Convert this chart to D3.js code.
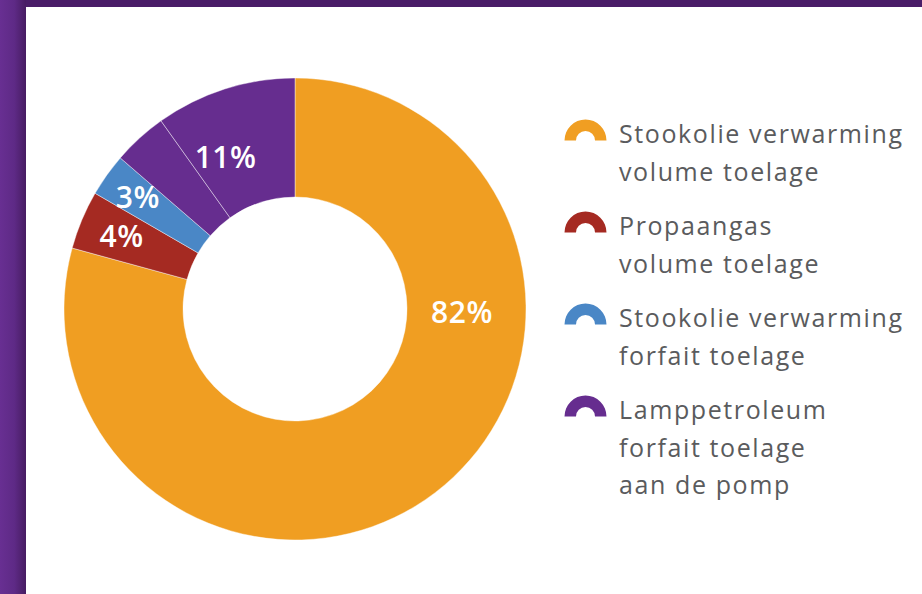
<!DOCTYPE html>
<html>
<head>
<meta charset="utf-8">
<script src="https://cdn.jsdelivr.net/npm/d3@7"></script>
<style>
  html, body { margin: 0; padding: 0; background: #fff; }
  svg { display: block; }
</style>
</head>
<body>
<svg id="donut" width="922" height="594"></svg>
<script>
// slices as drawn (share of the ring, %), the last two are both purple
var sliceKeys = ["stookVolume", "propaan", "stookForfait", "lampA", "lampB"];
var sliceValues = [79.25, 4.1, 3.0, 3.8, 9.85];
var sliceColors = ["#f09e22", "#a52a22", "#4a87c6", "#662d8f", "#662d8f"];

// printed labels
var labelKeys = ["stookVolume", "propaan", "stookForfait", "lamp"];
var labelTexts = ["82%", "4%", "3%", "11%"];

// legend
var legendLines = [
    ["Stookolie verwarming", "volume toelage"],
    ["Propaangas", "volume toelage"],
    ["Stookolie verwarming", "forfait toelage"],
    ["Lamppetroleum", "forfait toelage", "aan de pomp"]
];
var legendColors = ["#f09e22", "#a52a22", "#4a87c6", "#662d8f"];

var svg = d3.select("#donut"),
    cx = 295, cy = 309,
    outerR = 231, innerR = 112;

// purple frame
var defs = svg.append("defs");
var grad = defs.append("linearGradient").attr("id", "sideGrad")
    .attr("x1", "0%").attr("x2", "100%").attr("y1", "0%").attr("y2", "0%");
grad.append("stop").attr("offset", "0%").attr("stop-color", "#682f92");
grad.append("stop").attr("offset", "55%").attr("stop-color", "#5e2a86");
grad.append("stop").attr("offset", "100%").attr("stop-color", "#471c62");

svg.append("rect").attr("x", 0).attr("y", 0).attr("width", 922).attr("height", 7)
    .attr("fill", "#4a1d68");
svg.append("rect").attr("x", 0).attr("y", 0).attr("width", 26).attr("height", 594)
    .attr("fill", "url(#sideGrad)");

// donut
var pie = d3.pie().sort(null).value(d => d.value);
var arc = d3.arc().innerRadius(innerR).outerRadius(outerR);

var data = sliceKeys.map((k, i) => ({key: k, value: sliceValues[i], color: sliceColors[i]}));
var arcs = pie(data);

var g = svg.append("g").attr("transform", "translate(" + cx + "," + cy + ")");

g.selectAll("path.slice")
    .data(arcs)
    .enter()
    .append("path")
    .attr("class", "slice")
    .attr("d", arc)
    .attr("fill", d => d.data.color)
    .attr("stroke", "#fff")
    .attr("stroke-opacity", 0.7)
    .attr("stroke-width", 0.6);

// label positions: angle and radius per label
var byKey = {};
arcs.forEach(a => { byKey[a.data.key] = a; });
function mid(a, b) { return (a + b) / 2; }
var labelPos = {
    stookVolume: {angle: Math.PI / 2 + 0.02, r: 167},
    propaan: {angle: mid(byKey.propaan.startAngle, byKey.propaan.endAngle), r: 188},
    stookForfait: {angle: mid(byKey.stookForfait.startAngle, byKey.stookForfait.endAngle), r: 193},
    lamp: {angle: mid(byKey.lampA.startAngle, byKey.lampB.endAngle), r: 167}
};

g.selectAll("text.pct")
    .data(labelKeys)
    .enter()
    .append("text")
    .attr("class", "pct")
    .attr("x", k => Math.sin(labelPos[k].angle) * labelPos[k].r)
    .attr("y", k => -Math.cos(labelPos[k].angle) * labelPos[k].r)
    .attr("dy", "0.36em")
    .attr("text-anchor", "middle")
    .style("font-family", "'Open Sans', sans-serif")
    .style("font-size", "30px")
    .style("font-weight", "600")
    .style("letter-spacing", "0.5px")
    .style("fill", "#fff")
    .text((k, i) => labelTexts[i]);

// legend
var iconArc = d3.arc().innerRadius(9.5).outerRadius(21)
    .startAngle(-Math.PI / 2).endAngle(Math.PI / 2);
var lineH = 37.5, gap = 17;
var y0 = 143;
var legend = svg.append("g");

legendLines.forEach(function(lines, i) {
    var item = legend.append("g").attr("transform", "translate(0," + y0 + ")");
    item.append("path")
        .attr("d", iconArc)
        .attr("transform", "translate(585.5,-2.5)")
        .attr("fill", legendColors[i]);
    item.selectAll("text")
        .data(lines)
        .enter()
        .append("text")
        .attr("x", 619)
        .attr("y", (d, j) => j * lineH)
        .style("font-family", "'Open Sans', sans-serif")
        .style("font-size", "25px")
        .style("letter-spacing", "1.6px")
        .style("fill", "#5a5b5d")
        .text(d => d);
    y0 += lines.length * lineH + gap;
});
</script>
</body>
</html>
